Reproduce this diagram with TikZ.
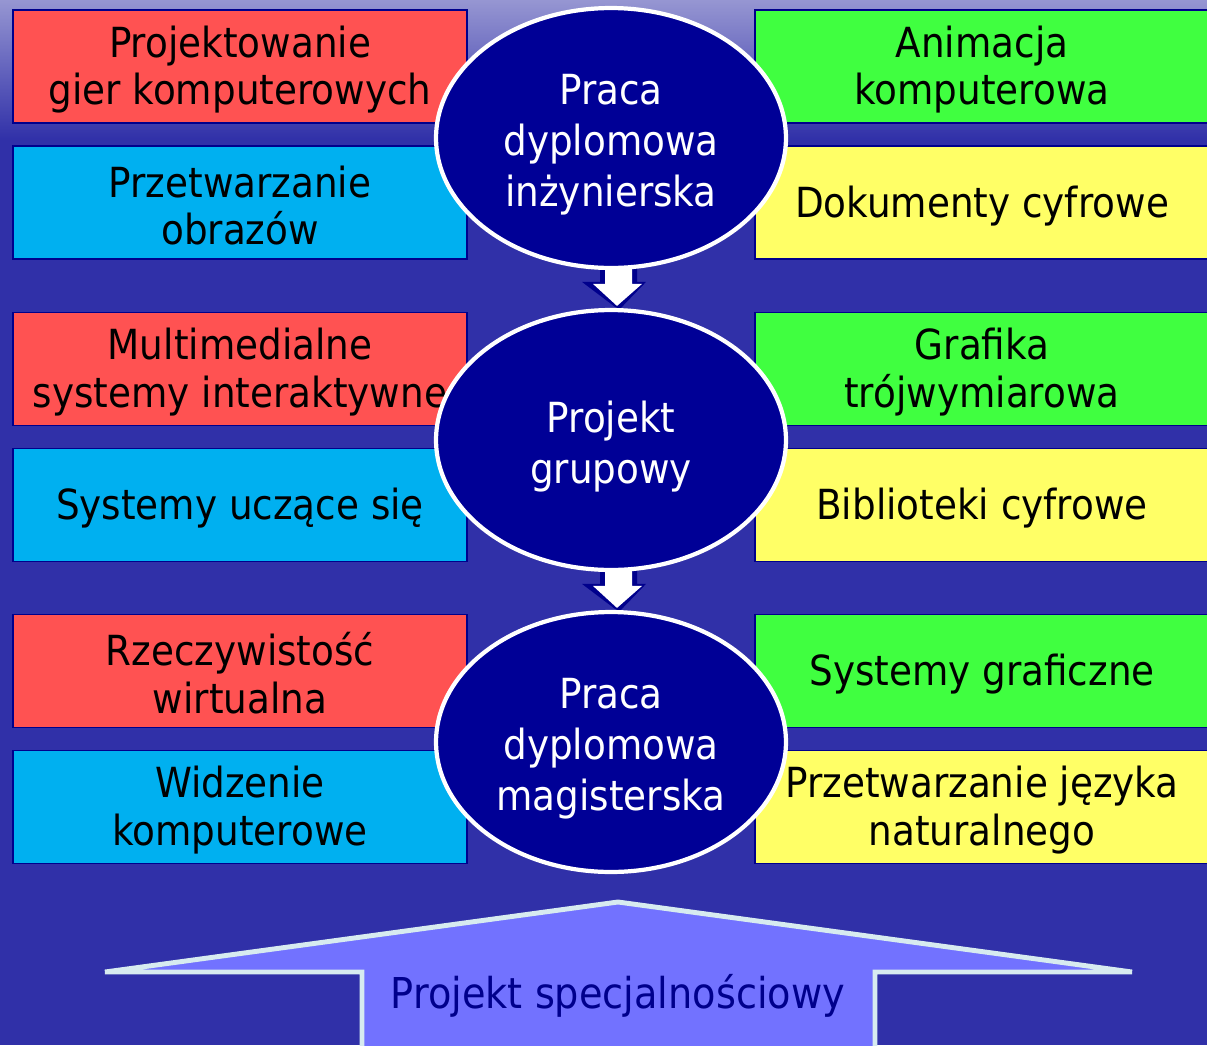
\documentclass[tikz,border=0pt]{standalone}
\usepackage{fontspec}
\setmainfont{DejaVu Sans}[FakeStretch=0.9]
\usepackage{tikz}
\usetikzlibrary{calc,shapes.geometric,backgrounds}
\definecolor{bgBlue}{RGB}{48, 48, 168}
\definecolor{bgTop}{RGB}{150, 150, 210}
\definecolor{boxRed}{RGB}{255, 82, 82}
\definecolor{boxCyan}{RGB}{0, 176, 240}
\definecolor{boxGreen}{RGB}{64, 255, 64}
\definecolor{boxYellow}{RGB}{255, 255, 102}
\definecolor{ovalNavy}{RGB}{0, 0, 150}
\definecolor{edgeNavy}{RGB}{0, 0, 140}
\definecolor{specFill}{RGB}{114, 114, 255}
\definecolor{specEdge}{RGB}{215, 235, 240}
\newcommand{\toppad}{\rule{0pt}{25pt}}
\newcommand{\boxpad}{\rule{0pt}{21.5pt}}

\begin{document}
\begin{tikzpicture}[x=0.02cm, y=-0.02cm,
    topic/.style={rectangle, draw=edgeNavy, line width=1pt, minimum width=9.08cm, minimum height=2.26cm,
                  inner sep=0pt, align=center, text=black, font=\fontsize{23.6}{27.2}\selectfont},
    stage/.style={ellipse, draw=white, fill=ovalNavy, line width=2.4pt, minimum width=7cm, minimum height=5.2cm,
                  inner sep=0pt, align=center, text=white, font=\fontsize{23.6}{29}\selectfont},
    downshadow/.style={fill=edgeNavy}]
\useasboundingbox (0,0) rectangle (1207,1045);

% left column
\node[topic, fill=boxRed] (gry) at (240,66.5) {\boxpad Projektowanie\\gier komputerowych};
\node[topic, fill=boxCyan] (obrazy) at (240,202.5) {\boxpad Przetwarzanie\\obrazów};
\node[topic, fill=boxRed] (multimedia) at (240,369) {\boxpad Multimedialne\\systemy interaktywne};
\node[topic, fill=boxCyan] (uczace) at (240,505) {\boxpad Systemy uczące się};
\node[topic, fill=boxRed] (vr) at (240,671) {\boxpad Rzeczywistość\\wirtualna};
\node[topic, fill=boxCyan] (widzenie) at (240,807) {\boxpad Widzenie\\komputerowe};

% right column
\node[topic, fill=boxGreen] (animacja) at (982,66.5) {\boxpad Animacja\\komputerowa};
\node[topic, fill=boxYellow] (dokumenty) at (982,202.5) {\boxpad Dokumenty cyfrowe};
\node[topic, fill=boxGreen] (grafika) at (982,369) {\boxpad Grafika\\trójwymiarowa};
\node[topic, fill=boxYellow] (biblioteki) at (982,505) {\boxpad Biblioteki cyfrowe};
\node[topic, fill=boxGreen] (graficzne) at (982,671) {\boxpad Systemy graficzne};
\node[topic, fill=boxYellow] (nlp) at (982,807) {\boxpad Przetwarzanie języka\\naturalnego};

% stages
\node[stage] (inz) at (611,138) {\toppad Praca\\dyplomowa\\inżynierska};
\node[stage] (grp) at (611,440) {\toppad Projekt\\grupowy};
\node[stage] (mgr) at (611,742) {\toppad Praca\\dyplomowa\\magisterska};

\begin{scope}[on background layer]
% background
\fill[bgBlue] (0,0) rectangle (1207,1045);
\shade[top color=bgTop, bottom color=bgBlue] (0,0) rectangle (1207,140);
% arrows between stages
\foreach \a/\b in {inz/grp, grp/mgr}{
  \fill[downshadow] ($(\a.south)+(-11,-4)$) -- ($(\b.north)+(-11,-26)$) -- ($(\b.north)+(-29,-26)$)
    -- ($(\b.north)+(8,2)$) -- ($(\b.north)+(35,-26)$) -- ($(\b.north)+(26,-26)$)
    -- ($(\a.south)+(26,-4)$) -- cycle;
  \fill[white] ($(\a.south)+(-6,-4)$) -- ($(\b.north)+(-6,-24)$) -- ($(\b.north)+(-18,-24)$)
    -- ($(\b.north)+(6,-2)$) -- ($(\b.north)+(31,-24)$) -- ($(\b.north)+(21,-24)$)
    -- ($(\a.south)+(21,-4)$) -- cycle;
}
\end{scope}

% bottom arrow
\filldraw[fill=specFill, draw=specEdge, line width=2.8pt]
  (618,902) -- (1132,972) -- (875,972) -- (875,1060) -- (362,1060) -- (362,972) -- (105,972) -- cycle;
\node[text=edgeNavy, font=\fontsize{24.2}{28}\selectfont] (spec) at (618,996) {Projekt specjalnościowy};
\end{tikzpicture}
\end{document}
